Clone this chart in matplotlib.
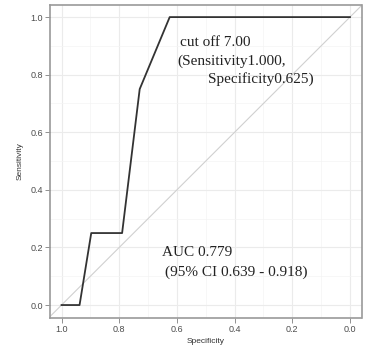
import matplotlib
matplotlib.use("Agg")
import matplotlib.pyplot as plt
from matplotlib.ticker import MultipleLocator

specificity = [1.0, 0.9375, 0.897, 0.79, 0.729, 0.625, 0.0]
sensitivity = [0.0, 0.0, 0.25, 0.25, 0.75, 1.0, 1.0]
ticks = [1.0, 0.8, 0.6, 0.4, 0.2, 0.0]
tick_labels = ["1.0", "0.8", "0.6", "0.4", "0.2", "0.0"]
cutoff_lines = ["cut off 7.00", "(Sensitivity1.000,", "Specificity0.625)"]
auc_lines = ["AUC 0.779", "(95% CI 0.639 - 0.918)"]

sans = "Liberation Sans"
fig = plt.figure(figsize=(3.66, 3.54), dpi=100)
ax = fig.add_axes([50/366, 1-318/354, 311.5/366, 313/354])
ax.set_xlim(1.04, -0.04)
ax.set_ylim(-0.045, 1.042)

ax.xaxis.set_minor_locator(MultipleLocator(0.1))
ax.yaxis.set_minor_locator(MultipleLocator(0.1))
ax.grid(True, which="major", color="#ebebeb", linewidth=0.8)
ax.grid(True, which="minor", color="#f4f4f4", linewidth=0.5)
ax.set_axisbelow(True)

ax.axline((1.0, 0.0), (0.0, 1.0), color="#d0d0d0", linewidth=0.8, zorder=2)
ax.plot(specificity, sensitivity, color="#333333", linewidth=1.3, zorder=3)

ax.set_xticks(ticks)
ax.set_xticklabels(tick_labels, family=sans)
ax.set_yticks(ticks)
ax.set_yticklabels(tick_labels, family=sans)
ax.tick_params(which="major", length=3.5, width=0.6, color="#7f7f7f",
               labelsize=6.5, labelcolor="#4d4d4d", pad=1.5)
ax.tick_params(which="minor", length=0)
for s in ax.spines.values():
    s.set_color("#9a9a9a")
    s.set_linewidth(1.2)

ax.set_xlabel("Specificity", fontsize=6, color="#333333", labelpad=3, family=sans)
ax.set_ylabel("Sensitivity", fontsize=6, color="#333333", labelpad=5, family=sans)

serif = "Liberation Serif"
tc = "#222222"
def px(x, y):
    return ((x - 50) / 311.5, (318 - y) / 313)
ax.text(*px(180, 43), cutoff_lines[0], transform=ax.transAxes, fontsize=11,
        family=serif, va="center", ha="left", color=tc)
ax.text(*px(177, 61), cutoff_lines[1], transform=ax.transAxes, fontsize=11,
        family=serif, va="center", ha="left", color=tc)
ax.text(*px(208, 79), cutoff_lines[2], transform=ax.transAxes, fontsize=11,
        family=serif, va="center", ha="left", color=tc)
ax.text(*px(162, 253), auc_lines[0], transform=ax.transAxes, fontsize=11,
        family=serif, va="center", ha="left", color=tc)
ax.text(*px(165, 272), auc_lines[1], transform=ax.transAxes, fontsize=11,
        family=serif, va="center", ha="left", color=tc)

fig.savefig("out.png", dpi=100)
